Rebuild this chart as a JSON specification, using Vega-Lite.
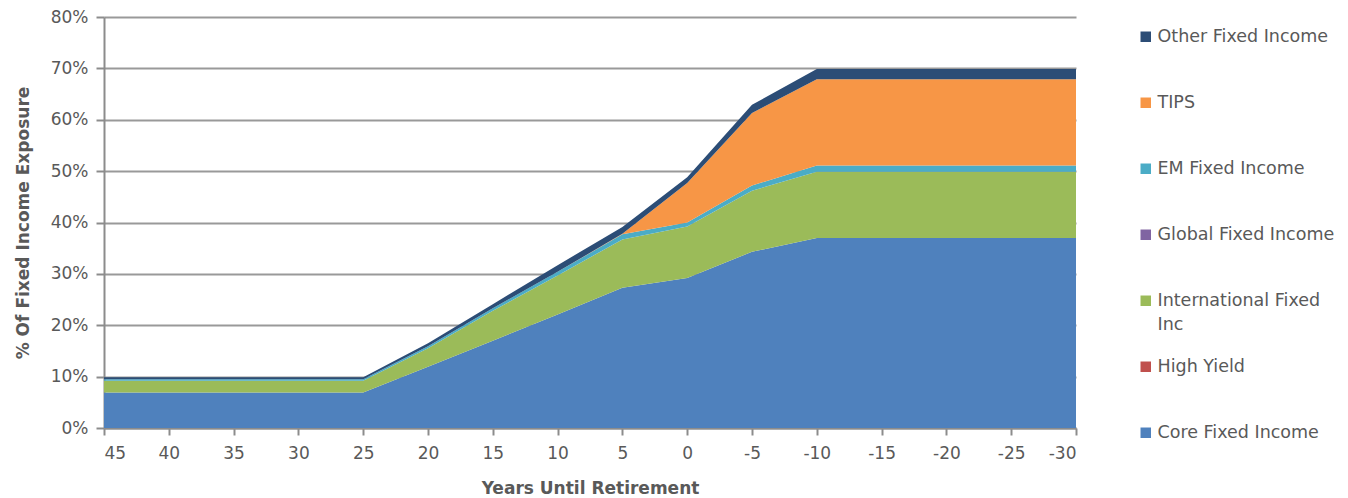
{
  "$schema": "https://vega.github.io/schema/vega-lite/v6.json",
  "width": 972,
  "height": 411,
  "autosize": {"type": "none"},
  "padding": {"left": 104, "top": 17, "right": 272, "bottom": 70},
  "background": "white",
  "config": {
    "view": {"stroke": null},
    "font": "DejaVu Sans",
    "style": {"guide-label": {"lineHeight": 24}},
    "axis": {
      "labelFont": "DejaVu Sans",
      "labelFontSize": 17,
      "labelColor": "#595959",
      "titleFont": "DejaVu Sans",
      "titleFontSize": 17,
      "titleFontWeight": "bold",
      "titleColor": "#595959",
      "domainColor": "#8c8c8c",
      "domainWidth": 2,
      "tickColor": "#8c8c8c",
      "tickWidth": 2,
      "gridColor": "#999999",
      "gridWidth": 2
    },
    "legend": {
      "labelFont": "DejaVu Sans",
      "labelFontSize": 17.5,
      "labelColor": "#595959"
    }
  },
  "datasets": {
    "stackRank": [
      {"series": "Core Fixed Income", "rank": 1},
      {"series": "High Yield", "rank": 2},
      {"series": "International Fixed Inc", "rank": 3},
      {"series": "Global Fixed Income", "rank": 4},
      {"series": "EM Fixed Income", "rank": 5},
      {"series": "TIPS", "rank": 6},
      {"series": "Other Fixed Income", "rank": 7}
    ]
  },
  "data": {
    "values": [
      {"year": 45, "Core Fixed Income": 0.069, "High Yield": 0, "International Fixed Inc": 0.023, "Global Fixed Income": 0, "EM Fixed Income": 0.003, "TIPS": 0, "Other Fixed Income": 0.004},
      {"year": 40, "Core Fixed Income": 0.069, "High Yield": 0, "International Fixed Inc": 0.023, "Global Fixed Income": 0, "EM Fixed Income": 0.003, "TIPS": 0, "Other Fixed Income": 0.004},
      {"year": 35, "Core Fixed Income": 0.069, "High Yield": 0, "International Fixed Inc": 0.023, "Global Fixed Income": 0, "EM Fixed Income": 0.003, "TIPS": 0, "Other Fixed Income": 0.004},
      {"year": 30, "Core Fixed Income": 0.069, "High Yield": 0, "International Fixed Inc": 0.023, "Global Fixed Income": 0, "EM Fixed Income": 0.003, "TIPS": 0, "Other Fixed Income": 0.004},
      {"year": 25, "Core Fixed Income": 0.069, "High Yield": 0, "International Fixed Inc": 0.023, "Global Fixed Income": 0, "EM Fixed Income": 0.003, "TIPS": 0, "Other Fixed Income": 0.004},
      {"year": 20, "Core Fixed Income": 0.119, "High Yield": 0, "International Fixed Inc": 0.036, "Global Fixed Income": 0, "EM Fixed Income": 0.004, "TIPS": 0, "Other Fixed Income": 0.006},
      {"year": 15, "Core Fixed Income": 0.170, "High Yield": 0, "International Fixed Inc": 0.058, "Global Fixed Income": 0, "EM Fixed Income": 0.005, "TIPS": 0, "Other Fixed Income": 0.008},
      {"year": 10, "Core Fixed Income": 0.221, "High Yield": 0, "International Fixed Inc": 0.076, "Global Fixed Income": 0, "EM Fixed Income": 0.007, "TIPS": 0, "Other Fixed Income": 0.013},
      {"year": 5, "Core Fixed Income": 0.273, "High Yield": 0, "International Fixed Inc": 0.094, "Global Fixed Income": 0, "EM Fixed Income": 0.010, "TIPS": 0.001, "Other Fixed Income": 0.013},
      {"year": 0, "Core Fixed Income": 0.292, "High Yield": 0, "International Fixed Inc": 0.100, "Global Fixed Income": 0, "EM Fixed Income": 0.008, "TIPS": 0.077, "Other Fixed Income": 0.011},
      {"year": -5, "Core Fixed Income": 0.343, "High Yield": 0, "International Fixed Inc": 0.119, "Global Fixed Income": 0, "EM Fixed Income": 0.010, "TIPS": 0.141, "Other Fixed Income": 0.016},
      {"year": -10, "Core Fixed Income": 0.370, "High Yield": 0, "International Fixed Inc": 0.129, "Global Fixed Income": 0, "EM Fixed Income": 0.012, "TIPS": 0.168, "Other Fixed Income": 0.020},
      {"year": -15, "Core Fixed Income": 0.370, "High Yield": 0, "International Fixed Inc": 0.129, "Global Fixed Income": 0, "EM Fixed Income": 0.012, "TIPS": 0.168, "Other Fixed Income": 0.020},
      {"year": -20, "Core Fixed Income": 0.370, "High Yield": 0, "International Fixed Inc": 0.129, "Global Fixed Income": 0, "EM Fixed Income": 0.012, "TIPS": 0.168, "Other Fixed Income": 0.020},
      {"year": -25, "Core Fixed Income": 0.370, "High Yield": 0, "International Fixed Inc": 0.129, "Global Fixed Income": 0, "EM Fixed Income": 0.012, "TIPS": 0.168, "Other Fixed Income": 0.020},
      {"year": -30, "Core Fixed Income": 0.370, "High Yield": 0, "International Fixed Inc": 0.129, "Global Fixed Income": 0, "EM Fixed Income": 0.012, "TIPS": 0.168, "Other Fixed Income": 0.020}
    ]
  },
  "transform": [
    {"fold": ["Core Fixed Income", "High Yield", "International Fixed Inc", "Global Fixed Income", "EM Fixed Income", "TIPS", "Other Fixed Income"], "as": ["series", "share"]},
    {"lookup": "series", "from": {"data": {"name": "stackRank"}, "key": "series", "fields": ["rank"]}}
  ],
  "mark": {"type": "area", "opacity": 1},
  "encoding": {
    "x": {
      "field": "year",
      "type": "quantitative",
      "scale": {"domain": [-30, 45], "reverse": true, "nice": false, "zero": false},
      "axis": {
        "values": [45, 40, 35, 30, 25, 20, 15, 10, 5, 0, -5, -10, -15, -20, -25, -30],
        "labelExpr": "'' + datum.value",
        "grid": false,
        "tickSize": 7,
        "labelPadding": 10,
        "title": "Years Until Retirement",
        "titlePadding": 19
      }
    },
    "y": {
      "field": "share",
      "type": "quantitative",
      "stack": "zero",
      "scale": {"domain": [0, 0.8], "nice": false},
      "axis": {
        "values": [0, 0.1, 0.2, 0.3, 0.4, 0.5, 0.6, 0.7, 0.8],
        "format": ".0%",
        "tickSize": 8,
        "labelPadding": 8,
        "title": "% Of Fixed Income Exposure",
        "titlePadding": 18
      }
    },
    "order": {"field": "rank", "type": "quantitative", "sort": "ascending"},
    "color": {
      "field": "series",
      "type": "nominal",
      "sort": ["Other Fixed Income", "TIPS", "EM Fixed Income", "Global Fixed Income", "International Fixed Inc", "High Yield", "Core Fixed Income"],
      "scale": {
        "domain": ["Other Fixed Income", "TIPS", "EM Fixed Income", "Global Fixed Income", "International Fixed Inc", "High Yield", "Core Fixed Income"],
        "range": ["#2c4d76", "#f79646", "#4bacc6", "#8064a2", "#9bbb59", "#c0504d", "#4f81bd"]
      },
      "legend": {
        "title": null,
        "orient": "none",
        "legendX": 1033,
        "legendY": 11,
        "symbolType": "square",
        "symbolSize": 110,
        "symbolStrokeWidth": 0,
        "rowPadding": 23,
        "labelOffset": 3,
        "labelLimit": 300,
        "labelExpr": "datum.label == 'International Fixed Inc' ? ['International Fixed', 'Inc'] : [datum.label, ' ']"
      }
    }
  }
}
